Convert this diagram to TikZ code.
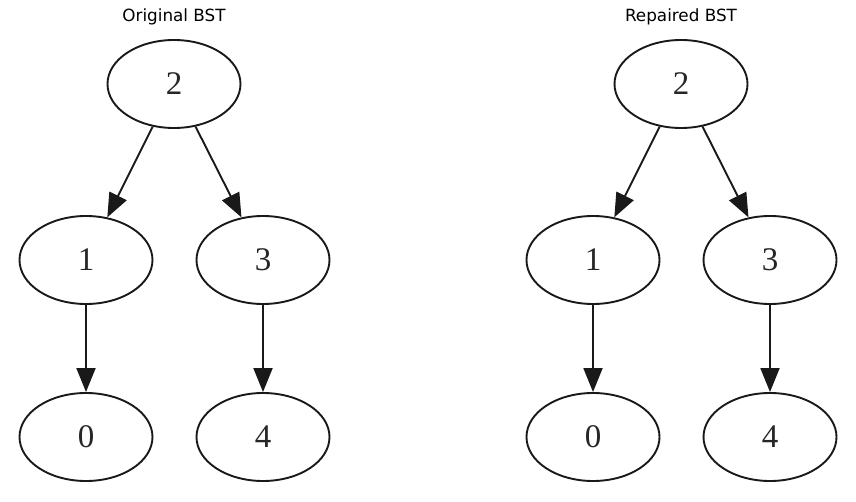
\documentclass[tikz,border=0pt]{standalone}
\usepackage{fontspec}
\setmainfont{Liberation Serif}
\newfontfamily\titlefont{DejaVu Sans}
\usetikzlibrary{shapes.geometric,arrows.meta}
\begin{document}
\begin{tikzpicture}[x=1pt,y=-1pt,
  bstnode/.style={ellipse,draw=black!90,line width=1.9pt,minimum width=133pt,minimum height=88pt,inner sep=0pt,font=\fontsize{33}{33}\selectfont,text=black!85},
  bstedge/.style={draw=black!90,line width=1.9pt,-{Triangle[length=24pt,width=19pt]}},
  ttl/.style={font=\titlefont\fontsize{16.8}{16.8}\selectfont}]
\useasboundingbox (0,0) rectangle (856,502);
% left
\node[ttl] (t1) at (174,17) {Original BST};
\node[bstnode] (a2) at (174,84) {2};
\node[bstnode] (a1) at (86,260) {1};
\node[bstnode] (a3) at (263,260) {3};
\node[bstnode] (a0) at (86,437) {0};
\node[bstnode] (a4) at (263,437) {4};
\draw[bstedge] (a2) -- (a1);
\draw[bstedge] (a2) -- (a3);
\draw[bstedge] (a1) -- (a0);
\draw[bstedge] (a3) -- (a4);
% right
\node[ttl] (t2) at (681,17) {Repaired BST};
\node[bstnode] (b2) at (681,84) {2};
\node[bstnode] (b1) at (593,260) {1};
\node[bstnode] (b3) at (770,260) {3};
\node[bstnode] (b0) at (593,437) {0};
\node[bstnode] (b4) at (770,437) {4};
\draw[bstedge] (b2) -- (b1);
\draw[bstedge] (b2) -- (b3);
\draw[bstedge] (b1) -- (b0);
\draw[bstedge] (b3) -- (b4);
\end{tikzpicture}
\end{document}
